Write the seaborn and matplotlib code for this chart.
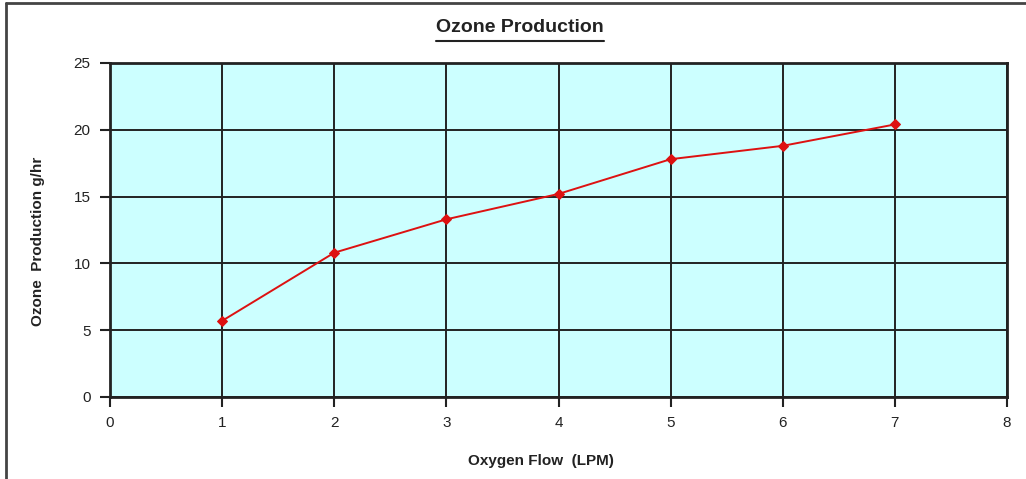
import pandas as pd
import matplotlib.pyplot as plt
import seaborn as sns
from matplotlib.lines import Line2D

# Values
oxygen_flow = [1, 2, 3, 4, 5, 6, 7]
ozone_output = [5.7, 10.8, 13.3, 15.2, 17.8, 18.8, 20.4]
x_ticks = [0, 1, 2, 3, 4, 5, 6, 7, 8]
y_ticks = [0, 5, 10, 15, 20, 25]

data = pd.DataFrame({'flow': oxygen_flow, 'ozone': ozone_output})

sns.set_style('ticks')
plt.rcParams['font.family'] = ['Liberation Sans', 'DejaVu Sans']

fig = plt.figure(figsize=(10.26, 4.79), dpi=100)
ax = fig.add_axes([110 / 1026, 1 - 397 / 479, 897 / 1026, 334 / 479])
ax.set_facecolor('#ccffff')

sns.lineplot(data=data, x='flow', y='ozone', ax=ax, color='#dd1111',
             linewidth=1.4, marker='D', markersize=5,
             markeredgecolor='#dd1111', zorder=5)

ax.set_xlim(0, 8)
ax.set_ylim(0, 25)
ax.set_xticks(x_ticks)
ax.set_yticks(y_ticks)
ax.grid(True, color='#222222', linewidth=1.4)
ax.set_axisbelow(True)
for side in ax.spines.values():
    side.set_color('#222222')
    side.set_linewidth(2)
ax.tick_params(direction='out', length=7, width=1.5, color='#222222',
               labelsize=11, labelcolor='#222222', pad=7)
ax.set_xlabel('')
ax.set_ylabel('')

fig.text(541 / 1026, 1 - 461 / 479, 'Oxygen Flow  (LPM)', ha='center', va='center',
         fontsize=11, fontweight='bold', color='#222222')
fig.text(38 / 1026, 1 - 241 / 479, 'Ozone  Production g/hr', ha='center', va='center',
         rotation=90, fontsize=11, fontweight='bold', color='#222222')

title = fig.text(520 / 1026, 1 - 28 / 479, 'Ozone Production', ha='center', va='center',
                 fontsize=14, fontweight='bold', color='#222222')

# underline under the title and the partial frame of the chart area
fig.canvas.draw()
bb = title.get_window_extent().transformed(fig.transFigure.inverted())
fig.add_artist(Line2D([bb.x0, bb.x1], [1 - 41 / 479] * 2, transform=fig.transFigure,
                      color='#222222', linewidth=1.5))
fig.add_artist(Line2D([6 / 1026, 1], [1 - 3 / 479] * 2, transform=fig.transFigure,
                      color='#444444', linewidth=2))
fig.add_artist(Line2D([6 / 1026] * 2, [0, 1 - 3 / 479], transform=fig.transFigure,
                      color='#444444', linewidth=2))

plt.savefig('out.png', dpi=100)
plt.close()
